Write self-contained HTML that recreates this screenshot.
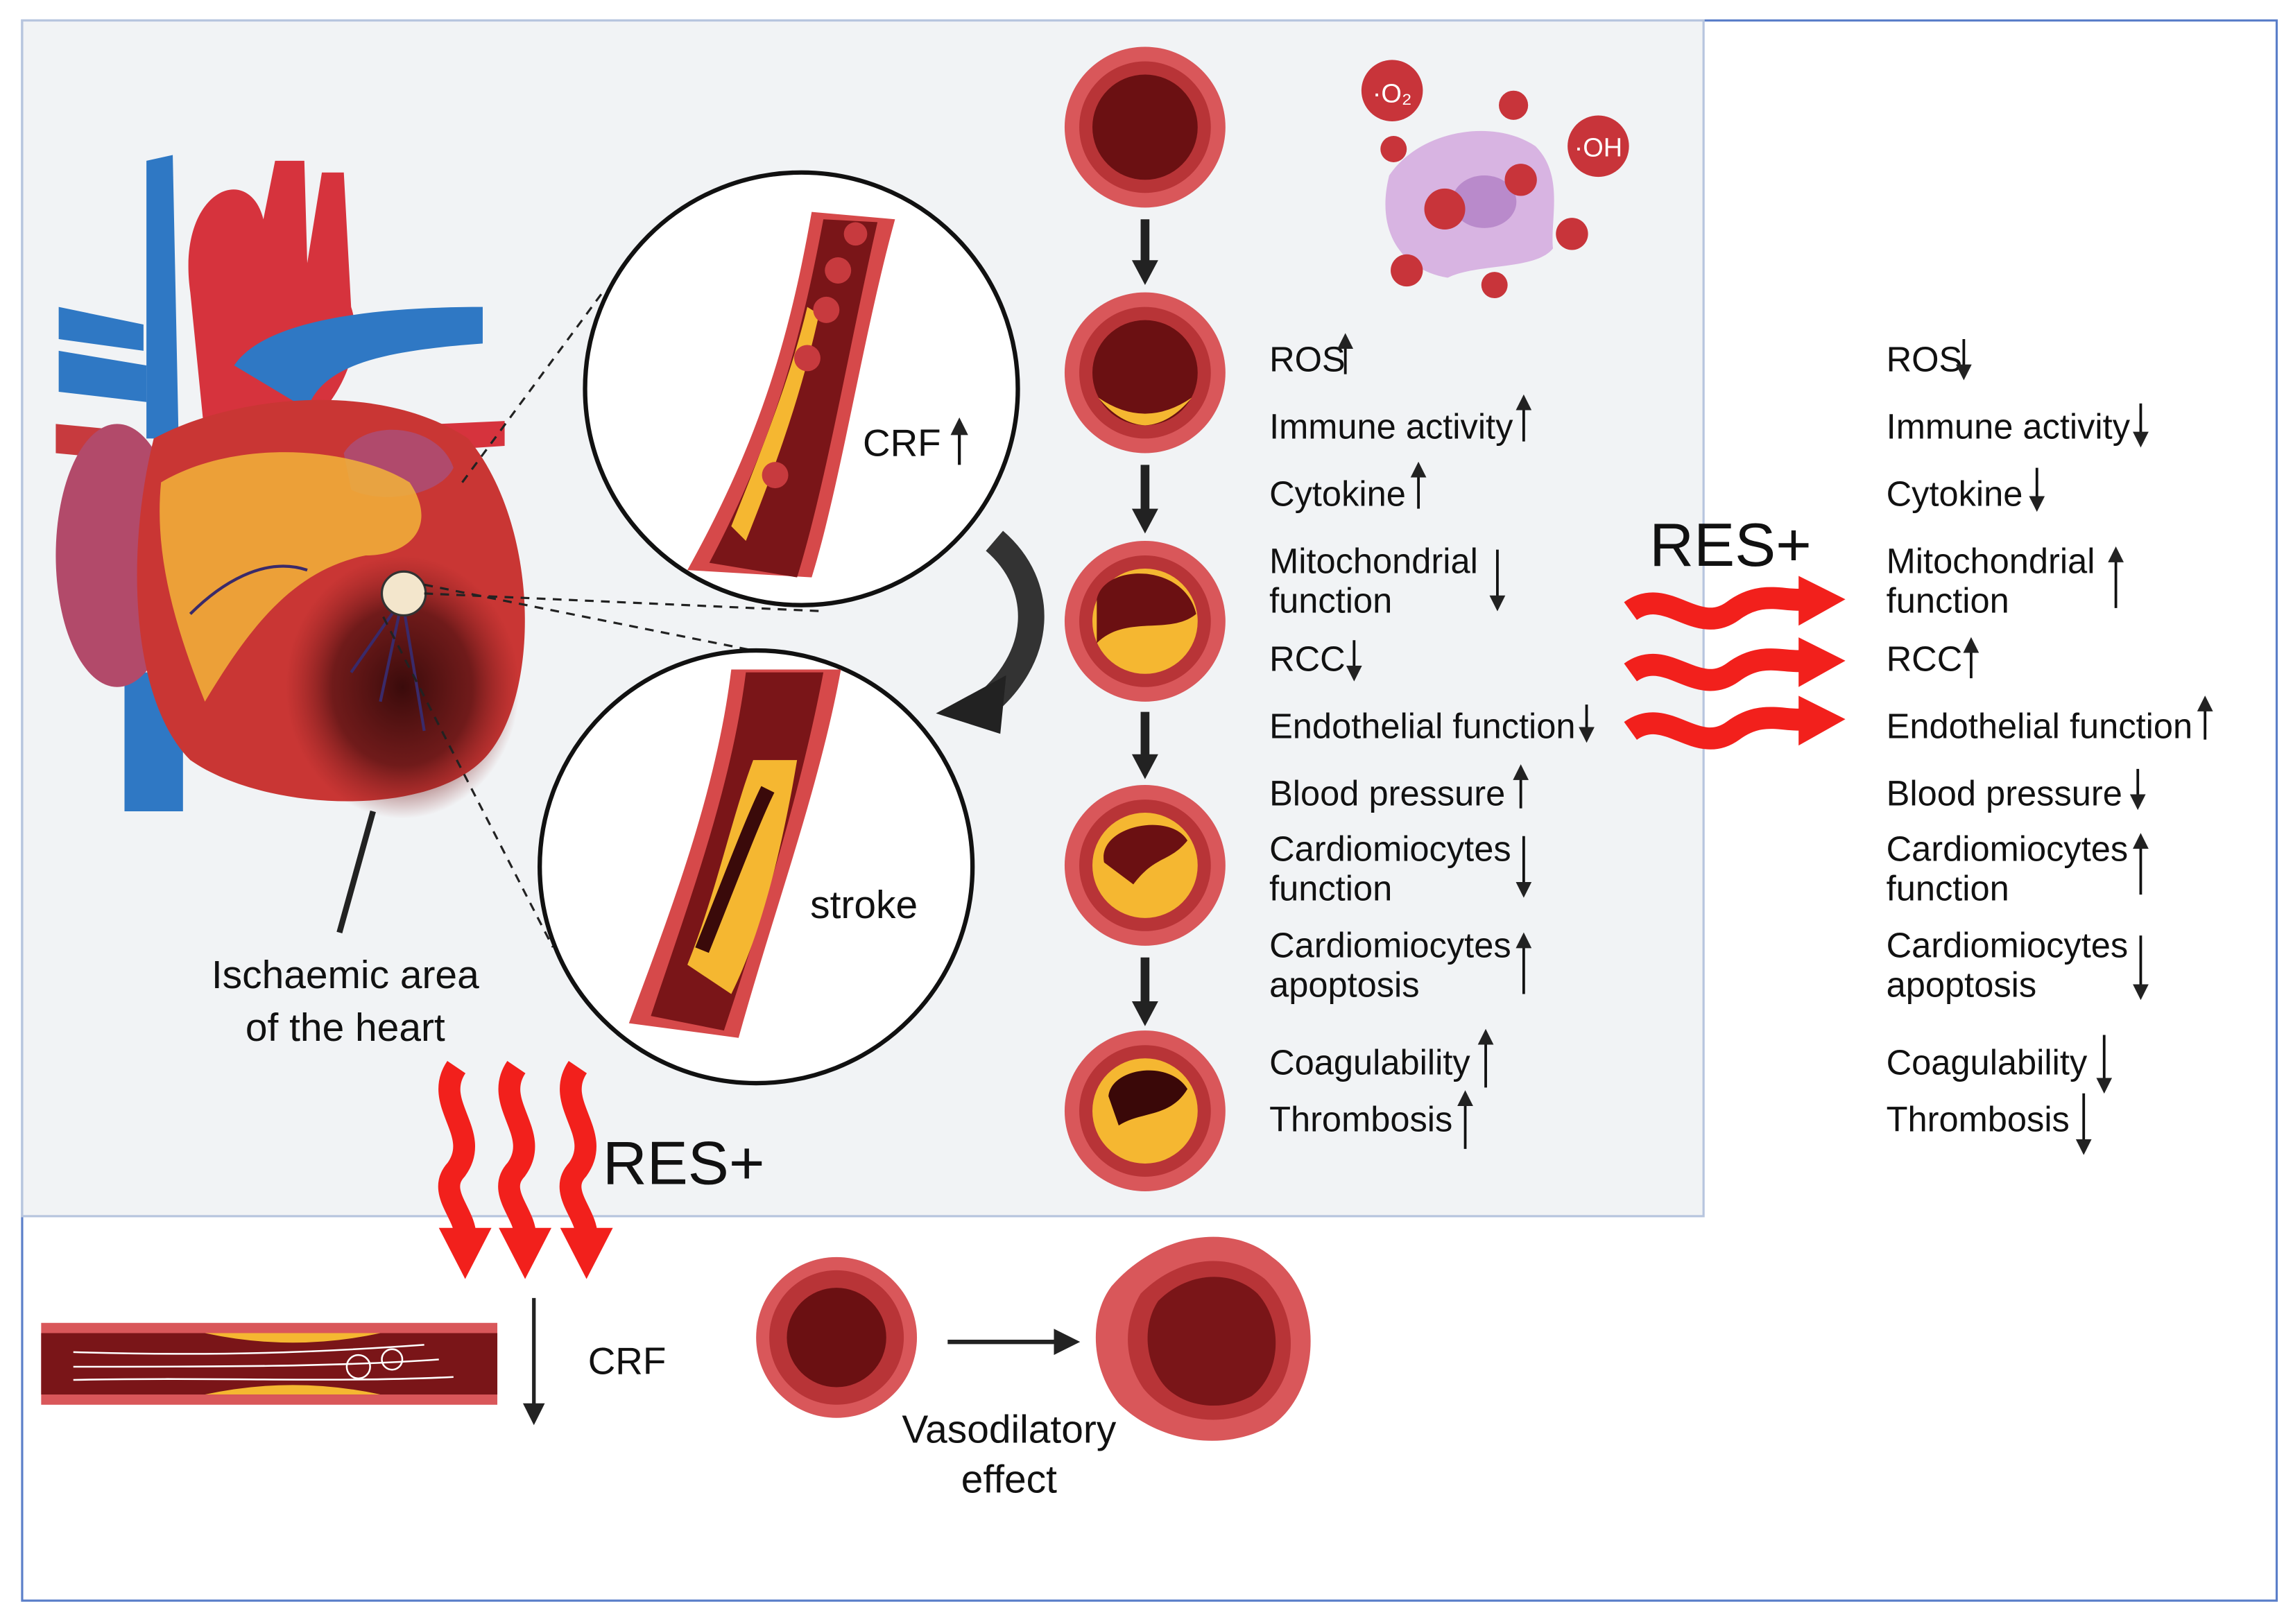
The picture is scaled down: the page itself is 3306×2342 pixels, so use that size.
<!DOCTYPE html>
<html><head><meta charset="utf-8"><style>
html,body{margin:0;padding:0;background:#fff}
svg{display:block}
text{font-family:"Liberation Sans",sans-serif;fill:#111}
</style></head><body>
<svg width="3306" height="2342" viewBox="0 0 1568 1111" xmlns="http://www.w3.org/2000/svg">
<defs>
<marker id="ah" viewBox="0 0 10 10" refX="8" refY="5" markerWidth="6" markerHeight="6" orient="auto"><path d="M0,0 L10,5 L0,10 z" fill="#222"/></marker>
<radialGradient id="isch" cx="0.5" cy="0.5" r="0.5"><stop offset="0" stop-color="#3a0b0b"/><stop offset="0.6" stop-color="#5a1414" stop-opacity="0.8"/><stop offset="1" stop-color="#8a2020" stop-opacity="0"/></radialGradient>
</defs>
<rect x="0" y="0" width="1568" height="1111" fill="#fff"/>
<rect x="15" y="14" width="1542" height="1081" fill="none" stroke="#5b7fc9" stroke-width="1.5"/>
<rect x="15" y="14" width="1150" height="818" fill="#f1f3f5" stroke="#b7c5de" stroke-width="1.5"/>

<g>
<path d="M100,110 L118,106 L122,300 L100,300 Z" fill="#2f78c4"/>
<path d="M85,460 L125,460 L125,555 L85,555 Z" fill="#2f78c4"/>
<path d="M40,240 L100,250 L100,275 L40,268 Z" fill="#2f78c4"/>
<path d="M40,210 L98,222 L98,240 L40,232 Z" fill="#2f78c4"/>
<path d="M38,290 L90,295 L90,315 L38,310 Z" fill="#c73a3e"/>
<path d="M130,200 C120,130 170,110 180,150 L188,110 L208,110 L210,180 L220,118 L235,118 L240,210 C250,240 230,280 200,300 L140,300 Z" fill="#d6333d"/>
<path d="M160,250 C180,220 250,210 330,210 L330,235 C260,240 220,250 210,280 Z" fill="#2f78c4"/>
<path d="M300,290 L345,288 L345,305 L300,308 Z" fill="#d6333d"/>
<ellipse cx="80" cy="380" rx="42" ry="90" fill="#b24a6a"/>
<path d="M105,300 C160,270 260,260 320,300 C370,360 370,480 330,520 C290,560 180,555 130,520 C90,480 85,380 105,300 Z" fill="#c93634"/>
<path d="M235,310 C250,285 300,290 310,320 C300,340 260,345 240,335 Z" fill="#b04a6c"/>
<path d="M110,330 C160,300 240,305 280,330 C300,360 280,380 250,380 C200,390 170,430 140,480 C120,430 105,380 110,330 Z" fill="#f2b33a" opacity="0.85"/>
<ellipse cx="275" cy="470" rx="80" ry="90" fill="url(#isch)"/>
<path d="M275,410 L260,480 M275,410 L290,500 M275,410 L240,460 M130,420 C150,400 180,380 210,390" stroke="#3a2a6a" stroke-width="2" fill="none"/>
<circle cx="276" cy="406" r="15" fill="#f3e6cc" stroke="#333" stroke-width="1.5"/>
<line x1="255" y1="555" x2="232" y2="638" stroke="#222" stroke-width="4"/>
</g>
<text x="236" y="676" font-size="27" text-anchor="middle">Ischaemic area</text>
<text x="236" y="712" font-size="27" text-anchor="middle">of the heart</text>

<g stroke="#222" stroke-width="1.5" stroke-dasharray="6,5" fill="none">
<line x1="316" y1="330" x2="412" y2="200"/>
<line x1="290" y1="406" x2="560" y2="418"/>
<line x1="290" y1="400" x2="515" y2="445"/>
<line x1="262" y1="422" x2="378" y2="648"/>
</g>

<circle cx="548" cy="266" r="148" fill="#fff" stroke="#111" stroke-width="3"/>
<path d="M470,390 C520,300 540,230 555,145 L612,150 C590,230 575,330 555,395 Z" fill="#d6494a"/>
<path d="M485,385 C530,300 548,230 563,150 L600,152 C580,240 565,330 545,395 Z" fill="#7a1518"/>
<path d="M500,360 C520,310 540,260 552,210 L560,215 C548,270 530,320 510,370 Z" fill="#f5b731"/>
<circle cx="573" cy="185" r="9" fill="#c73a3e"/><circle cx="565" cy="212" r="9" fill="#c73a3e"/><circle cx="552" cy="245" r="9" fill="#c73a3e"/><circle cx="530" cy="325" r="9" fill="#c73a3e"/><circle cx="585" cy="160" r="8" fill="#c73a3e"/>
<text x="590" y="312" font-size="26">CRF</text>
<line x1="656" y1="318" x2="656" y2="288" stroke="#111" stroke-width="2" marker-end="url(#ah)"/>

<path d="M680,370 C715,400 715,450 670,485" stroke="#333" stroke-width="18" fill="none"/>
<path d="M640,488 L688,462 L684,502 Z" fill="#222"/>

<circle cx="517" cy="593" r="148" fill="#fff" stroke="#111" stroke-width="3"/>
<path d="M430,700 C460,620 490,540 500,458 L575,458 C560,540 530,620 505,710 Z" fill="#d6494a"/>
<path d="M445,695 C470,620 500,540 510,460 L563,460 C548,540 520,630 495,705 Z" fill="#7a1518"/>
<path d="M470,660 C490,610 500,560 515,520 L545,520 C535,580 520,640 500,680 Z" fill="#f5b731"/>
<path d="M480,650 C500,600 515,560 525,540" stroke="#3a0a0a" stroke-width="10" fill="none"/>
<text x="554" y="628" font-size="27">stroke</text>

<g>
<circle cx="783" cy="87" r="55" fill="#d9575a"/><circle cx="783" cy="87" r="45" fill="#b83437"/><circle cx="783" cy="87" r="36" fill="#6b1012"/>
<circle cx="783" cy="255" r="55" fill="#d9575a"/><circle cx="783" cy="255" r="45" fill="#b83437"/><circle cx="783" cy="255" r="36" fill="#6b1012"/>
<path d="M751,272 Q783,294 815,272 Q800,290 783,291 Q766,290 751,272Z" fill="#f5b731"/>
<circle cx="783" cy="425" r="55" fill="#d9575a"/><circle cx="783" cy="425" r="45" fill="#b83437"/><circle cx="783" cy="425" r="36" fill="#f5b731"/>
<path d="M750,410 C755,385 810,385 818,420 C800,435 770,420 750,440Z" fill="#6b1012"/>
<circle cx="783" cy="592" r="55" fill="#d9575a"/><circle cx="783" cy="592" r="45" fill="#b83437"/><circle cx="783" cy="592" r="36" fill="#f5b731"/>
<path d="M755,590 C750,565 800,555 812,575 C800,590 790,585 775,605Z" fill="#6b1012"/>
<circle cx="783" cy="760" r="55" fill="#d9575a"/><circle cx="783" cy="760" r="45" fill="#b83437"/><circle cx="783" cy="760" r="36" fill="#f5b731"/>
<path d="M758,750 C760,730 800,725 812,745 C800,765 780,760 765,770Z" fill="#3a0808"/>
</g>
<g stroke="#222" stroke-width="6">
<line x1="783" y1="150" x2="783" y2="180"/><line x1="783" y1="318" x2="783" y2="350"/><line x1="783" y1="487" x2="783" y2="518"/><line x1="783" y1="655" x2="783" y2="687"/>
</g>
<g fill="#222">
<path d="M774,178 L792,178 L783,195Z"/><path d="M774,348 L792,348 L783,365Z"/><path d="M774,516 L792,516 L783,533Z"/><path d="M774,685 L792,685 L783,702Z"/>
</g>

<path d="M950,120 C970,90 1020,80 1050,100 C1070,120 1060,150 1062,170 C1050,185 1010,180 990,190 C960,185 940,160 950,120Z" fill="#d8b4e2"/>
<ellipse cx="1015" cy="138" rx="22" ry="18" fill="#b98acb"/>
<g fill="#c8343a">
<circle cx="952" cy="62" r="21"/><circle cx="1093" cy="100" r="21"/>
<circle cx="1035" cy="72" r="10"/><circle cx="953" cy="102" r="9"/><circle cx="988" cy="143" r="14"/><circle cx="1040" cy="123" r="11"/><circle cx="1075" cy="160" r="11"/><circle cx="962" cy="185" r="11"/><circle cx="1022" cy="195" r="9"/>
</g>
<text x="952" y="70" font-size="18" text-anchor="middle" style="fill:#fff">·O₂</text>
<text x="1093" y="107" font-size="18" text-anchor="middle" style="fill:#fff">·OH</text>

<g font-size="24">
<text x="868" y="254">ROS</text>
<text x="868" y="300">Immune activity</text>
<text x="868" y="346">Cytokine</text>
<text x="868" y="392">Mitochondrial</text><text x="868" y="419">function</text>
<text x="868" y="459">RCC</text>
<text x="868" y="505">Endothelial function</text>
<text x="868" y="551">Blood pressure</text>
<text x="868" y="589">Cardiomiocytes</text><text x="868" y="616">function</text>
<text x="868" y="655">Cardiomiocytes</text><text x="868" y="682">apoptosis</text>
<text x="868" y="735">Coagulability</text>
<text x="868" y="774">Thrombosis</text>
</g>
<g stroke="#111" stroke-width="1.8" marker-end="url(#ah)">
<line x1="920" y1="256" x2="920" y2="230"/>
<line x1="1042" y1="302" x2="1042" y2="272"/>
<line x1="970" y1="348" x2="970" y2="318"/>
<line x1="1024" y1="376" x2="1024" y2="416"/>
<line x1="926" y1="438" x2="926" y2="464"/>
<line x1="1085" y1="482" x2="1085" y2="506"/>
<line x1="1040" y1="553" x2="1040" y2="525"/>
<line x1="1042" y1="572" x2="1042" y2="612"/>
<line x1="1042" y1="680" x2="1042" y2="640"/>
<line x1="1016" y1="744" x2="1016" y2="706"/>
<line x1="1002" y1="786" x2="1002" y2="748"/>
</g>

<g font-size="24">
<text x="1290" y="254">ROS</text>
<text x="1290" y="300">Immune activity</text>
<text x="1290" y="346">Cytokine</text>
<text x="1290" y="392">Mitochondrial</text><text x="1290" y="419">function</text>
<text x="1290" y="459">RCC</text>
<text x="1290" y="505">Endothelial function</text>
<text x="1290" y="551">Blood pressure</text>
<text x="1290" y="589">Cardiomiocytes</text><text x="1290" y="616">function</text>
<text x="1290" y="655">Cardiomiocytes</text><text x="1290" y="682">apoptosis</text>
<text x="1290" y="735">Coagulability</text>
<text x="1290" y="774">Thrombosis</text>
</g>
<g stroke="#111" stroke-width="1.8" marker-end="url(#ah)">
<line x1="1343" y1="232" x2="1343" y2="258"/>
<line x1="1464" y1="276" x2="1464" y2="304"/>
<line x1="1393" y1="320" x2="1393" y2="348"/>
<line x1="1447" y1="416" x2="1447" y2="376"/>
<line x1="1348" y1="464" x2="1348" y2="438"/>
<line x1="1508" y1="506" x2="1508" y2="478"/>
<line x1="1462" y1="526" x2="1462" y2="552"/>
<line x1="1464" y1="612" x2="1464" y2="572"/>
<line x1="1464" y1="640" x2="1464" y2="682"/>
<line x1="1439" y1="708" x2="1439" y2="746"/>
<line x1="1425" y1="748" x2="1425" y2="788"/>
</g>

<text x="1128" y="387" font-size="42">RES+</text>
<g stroke="#f2201c" stroke-width="15" fill="none">
<path d="M1115,418 C1140,400 1160,436 1185,418 C1205,403 1220,412 1235,410"/>
<path d="M1115,460 C1140,442 1160,478 1185,460 C1205,445 1220,454 1235,452"/>
<path d="M1115,500 C1140,482 1160,518 1185,500 C1205,485 1220,494 1235,492"/>
</g>
<g fill="#f2201c">
<path d="M1230,394 L1262,410 L1230,428Z"/><path d="M1230,436 L1262,452 L1230,470Z"/><path d="M1230,476 L1262,492 L1230,510Z"/>
</g>

<text x="412" y="810" font-size="42">RES+</text>
<g stroke="#f2201c" stroke-width="15" fill="none">
<path d="M312,730 C295,755 330,775 312,800 C298,815 318,830 318,845"/>
<path d="M353,730 C336,755 371,775 353,800 C339,815 359,830 359,845"/>
<path d="M395,730 C378,755 413,775 395,800 C381,815 401,830 401,845"/>
</g>
<g fill="#f2201c">
<path d="M300,840 L336,840 L318,875Z"/><path d="M341,840 L377,840 L359,875Z"/><path d="M383,840 L419,840 L401,875Z"/>
</g>

<rect x="28" y="905" width="312" height="56" fill="#d9575a"/>
<rect x="28" y="912" width="312" height="42" fill="#7a1518"/>
<path d="M140,912 Q200,925 260,912 Z M140,954 Q200,941 260,954Z" fill="#f5b731"/>
<g stroke="#fff" stroke-width="1.2" fill="none">
<path d="M50,925 C150,928 220,925 290,920"/><path d="M50,935 C150,935 230,935 300,930"/><path d="M50,944 C150,942 230,946 310,942"/>
<circle cx="245" cy="935" r="8"/><circle cx="268" cy="930" r="7"/>
</g>
<line x1="365" y1="888" x2="365" y2="972" stroke="#222" stroke-width="2.5" marker-end="url(#ah)"/>
<text x="402" y="940" font-size="26">CRF</text>

<circle cx="572" cy="915" r="55" fill="#d9575a"/><circle cx="572" cy="915" r="46" fill="#b83437"/><circle cx="572" cy="915" r="34" fill="#6b1012"/>
<line x1="648" y1="918" x2="735" y2="918" stroke="#222" stroke-width="3" marker-end="url(#ah)"/>
<path d="M760,880 C790,845 840,835 870,860 C905,885 905,950 870,975 C835,995 790,985 765,960 C745,935 745,900 760,880Z" fill="#d9575a"/>
<path d="M780,885 C805,860 840,855 865,875 C890,900 888,945 862,963 C835,978 800,972 782,950 C768,930 768,905 780,885Z" fill="#b83437"/>
<path d="M792,890 C812,870 842,868 860,885 C878,905 876,940 856,955 C834,967 806,962 794,945 C782,928 782,905 792,890Z" fill="#7a1518"/>
<text x="690" y="987" font-size="27" text-anchor="middle">Vasodilatory</text>
<text x="690" y="1021" font-size="27" text-anchor="middle">effect</text>
</svg>
</body></html>
